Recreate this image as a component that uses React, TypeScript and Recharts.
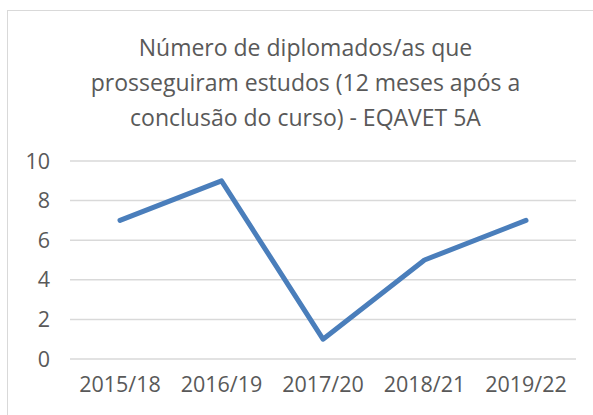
import { LineChart, Line, XAxis, YAxis, CartesianGrid } from "recharts"

const years = ["2015/18", "2016/19", "2017/20", "2018/21", "2019/22"]
const graduates = [7, 9, 1, 5, 7]
const yTicks = [0, 2, 4, 6, 8, 10]
const titleLines = [
  "Número de diplomados/as que",
  "prosseguiram estudos (12 meses após a",
  "conclusão do curso) - EQAVET 5A",
]

const data = years.map((year, i) => ({ year, value: graduates[i] }))

const FONT = "'Open Sans', sans-serif"
const TEXT = "#595959"

export default function App() {
  return (
    <div
      style={{
        position: "absolute", left: 0, top: 0, width: 593, height: 415,
        background: "#fff", overflow: "hidden", fontFamily: FONT,
      }}
    >
      {/* chart area frame, cropped on right and bottom */}
      <div
        style={{
          position: "absolute", left: 7, top: 10, width: 620, height: 430,
          border: "1px solid #d9d9d9", boxSizing: "border-box",
        }}
      />
      <div
        style={{
          position: "absolute", left: 7, top: 30, width: 597,
          textAlign: "center", color: TEXT, fontSize: 23, lineHeight: "35px",
        }}
      >
        {titleLines.map((t) => (
          <div key={t}>{t}</div>
        ))}
      </div>
      <div style={{ position: "absolute", left: 0, top: 0 }}>
        <LineChart
          width={593}
          height={415}
          data={data}
          margin={{ top: 161, right: 17, left: 0, bottom: 0 }}
        >
          <CartesianGrid vertical={false} stroke="#d9d9d9" strokeWidth={1.5} />
          <XAxis
            dataKey="year"
            height={56}
            axisLine={false}
            tickLine={false}
            tickSize={0}
            tickMargin={18}
            interval={0}
            padding={{ left: 50, right: 50 }}
            tick={{ fill: TEXT, fontSize: 21.5, fontFamily: FONT }}
          />
          <YAxis
            width={70}
            domain={[0, 10]}
            ticks={yTicks}
            axisLine={false}
            tickLine={false}
            tickSize={0}
            tickMargin={20}
            tick={{ fill: TEXT, fontSize: 21.5, fontFamily: FONT }}
          />
          <Line
            type="linear"
            dataKey="value"
            stroke="#4a7ebb"
            strokeWidth={5}
            strokeLinecap="round"
            strokeLinejoin="round"
            dot={false}
            activeDot={false}
            isAnimationActive={false}
          />
        </LineChart>
      </div>
    </div>
  )
}
